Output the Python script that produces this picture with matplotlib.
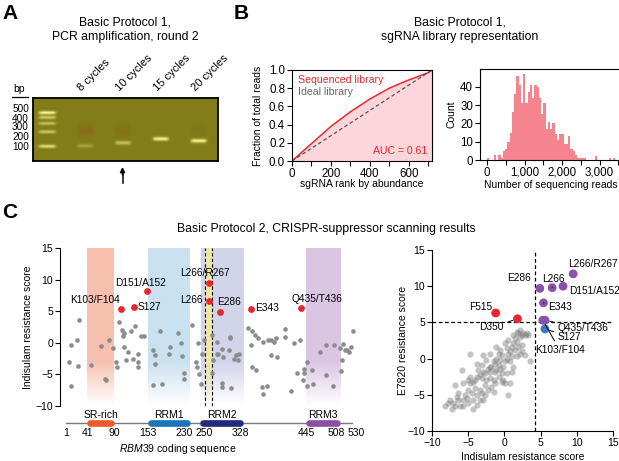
import numpy as np
import matplotlib.pyplot as plt
import matplotlib.colors as mcolors

plt.rcParams['font.family'] = ['Liberation Sans', 'DejaVu Sans']
plt.rcParams['mathtext.fontset'] = 'custom'
plt.rcParams['mathtext.it'] = 'Liberation Sans:italic'
plt.rcParams['mathtext.rm'] = 'Liberation Sans'
plt.rcParams['axes.linewidth'] = 0.8

# ---------------- data ----------------
# A: gel
ladder_bp = [100, 200, 300, 400, 500]
ladder_intensity = [0.8, 0.6, 0.55, 0.65, 1.0]
lane_names = ['8 cycles', '10 cycles', '15 cycles', '20 cycles']
product_bp = [102, 118, 143, 130]
product_intensity = [0.3, 0.55, 0.95, 0.95]
smear_intensity = [0.35, 0.3, 0.05, 0.12]

# B: library representation
n_guides = 720
rank = [0, 100, 200, 300, 400, 500, 600, 700, 720]
frac_reads = [0, 0.19, 0.38, 0.54, 0.68, 0.80, 0.89, 0.97, 1.0]
auc = 0.61
bin_width = 60
hist_counts = [1, 0, 0, 3, 0, 3, 1, 5, 6, 10, 15, 26, 36, 46, 41, 31, 47, 31, 37, 41,
               34, 41, 40, 34, 25, 31, 17, 21, 17, 20, 14, 11, 14, 14, 9, 9, 13, 6, 5, 3,
               1, 1, 1, 1, 0, 0, 0, 0, 2, 0, 0, 0, 0, 0, 1, 0, 1, 0]

# C left: scan along RBM39
gray_seq = [7, 11, 11, 21, 23, 25, 48, 66, 73, 76, 80, 88, 93, 96, 99, 104, 107, 108, 109, 113,
            116, 122, 125, 128, 134, 135, 135, 140, 145, 162, 165, 163, 165, 175, 179, 191, 194,
            208, 214, 216, 219, 220, 235, 242, 243, 245, 248, 250, 253, 256, 271, 272, 273, 280,
            280, 283, 290, 291, 289, 289, 304, 306, 305, 303, 311, 316, 320, 322, 337, 343, 345,
            346, 350, 352, 357, 363, 365, 373, 366, 374, 381, 386, 389, 380, 391, 406, 406, 417,
            422, 428, 434, 441, 441, 446, 439, 447, 456, 457, 471, 481, 496, 508, 517, 481, 494,
            510, 513, 520, 524, 529, 531, 511]
gray_score = [-3.0, -0.4, -6.9, 0.5, -3.7, 3.6, -3.5, -0.5, -5.7, -5.9, 0.4, -0.8, -3.0, -3.8, 3.3,
              2.1, 1.0, -0.6, 1.5, -2.8, -1.4, 1.8, -2.6, 2.6, -1.8, -3.0, -3.8, 1.0, 1.1, -1.2,
              -1.9, -6.7, -3.3, 1.8, -6.5, -1.7, -0.6, 1.5, -0.1, -2.1, -4.8, -5.8, 2.8, -3.1,
              -3.8, 0.0, -4.9, -6.5, -1.8, 0.4, 1.3, -4.7, -2.7, 0.2, -1.8, -1.8, -1.0, -2.2, -6.3,
              -7.0, 0.9, -7.2, 0.7, -1.1, -2.5, -1.9, -2.8, -1.7, 2.3, -0.4, -3.9, 1.8, 1.3, -4.3,
              0.7, -7.0, -8.1, -6.8, 0.2, 0.4, 0.4, 0.2, 0.8, -2.0, -2.3, 2.2, 0.9, -7.6, -0.1,
              -4.7, 0.4, -4.2, -4.7, -3.1, -5.9, -6.9, -4.3, -6.5, -1.4, -0.3, -0.3, -0.9, -1.1,
              -5.1, -6.8, -4.4, -0.2, -1.2, -1.4, -0.7, 1.8, -2.7]
hit_names = ['K103/F104', 'S127', 'D151/A152', 'L266/R267', 'L266', 'E286', 'E343', 'Q435/T436']
hit_seq = [103.5, 127, 151.5, 266.5, 266, 286, 343, 435.5]
hit_score = [5.3, 5.6, 8.2, 9.5, 6.6, 4.9, 5.4, 5.5]
domain_names = ['SR-rich', 'RRM1', 'RRM2', 'RRM3']
domain_start = [41, 153, 250, 445]
domain_end = [90, 230, 328, 508]
seq_ticks = [1, 41, 90, 153, 230, 250, 328, 445, 508, 530]

# C right: indisulam vs E7820
gray_indisulam = [-4.8, -5.9, -6.8, -7.5, -8.2, -7.3, -7.1, -6.6, -6.4, -5.7, -5.5, -5.0, -4.8, -4.4,
                  -4.1, -3.8, -3.4, -3.1, -2.9, -2.7, -2.2, -2.0, -1.8, -1.5, -1.3, -1.1, -0.8, -0.6,
                  -0.4, -0.2, 0.1, 0.3, 0.5, 0.8, 1.0, 1.2, 1.5, 1.7, 1.9, 2.2, 2.4, 2.6, 2.8, 3.1,
                  3.3, 3.5, 2.4, 1.9, 1.5, 1.0, 0.5, 0.3, 0.1, -0.4, -0.8, -1.3, -1.8, -2.2, -2.7,
                  -3.1, -3.8, -4.3, -5.0, -5.7, -6.1, -4.3, -3.4, -2.5, -2.0, -1.5, -1.1, -0.6, -0.2,
                  0.5, 1.2, 1.7, 2.2, 0.8, 1.0, -0.6, -1.1, -2.0, -2.5, -3.1, -3.6, -4.1, -4.5, -5.2,
                  -2.9, -4.8, 2.2, 1.7, 2.4, 0.3, -0.4, -1.5, -2.7, -3.4, -3.8, -6.8, -7.8, -6.4, 1.2,
                  2.8, -0.8, -1.3, 0.1, -2.0, -2.9, -3.8, -5.7, -5.0, 0.8]
gray_e7820 = [0.7, -1.6, -3.7, -5.7, -6.6, -6.9, -6.2, -5.3, -5.7, -5.7, -5.0, -4.3, -3.4, -3.2, -3.0,
              -2.5, -2.3, -2.7, -1.8, -2.0, -1.4, -1.8, -1.1, -0.4, -0.7, 0.0, 0.7, 1.2, 0.5, -1.1,
              -0.4, 0.0, 0.7, 1.0, 1.6, 2.1, 2.8, 2.3, 3.5, 3.0, 3.3, 3.5, 3.3, 3.5, 3.3, -0.4, 1.9,
              1.6, 1.2, 0.3, 2.6, 1.4, 2.1, -2.0, -2.5, -3.4, -3.9, -4.3, -3.7, -4.8, -5.0, -5.7,
              -6.2, -6.6, -6.6, -6.9, -4.3, -3.0, -2.7, -3.0, -1.6, -1.4, -3.0, -5.0, -1.1, 0.3,
              0.7, -0.4, -1.8, -0.2, 1.6, 0.7, -0.2, -0.9, -1.6, -4.1, -4.8, -5.5, -5.7, -2.5, 4.0,
              3.7, 1.0, -2.0, -3.2, -4.6, -5.0, -5.7, -6.4, -6.6, -6.2, -4.8, 3.3, 0.5, -0.9, -1.8,
              -3.4, -1.1, 0.5, -0.7, -3.4, -3.0, -3.4]
hit2_names = ['L266/R267', 'L266', 'D151/A152', 'E286', 'E343', 'Q435/T436', 'K103/F104',
              'S127', 'F515', 'D350']
hit2_indisulam = [9.5, 6.6, 8.1, 4.9, 5.4, 5.6, 5.3, 5.6, -1.2, 1.8]
hit2_e7820 = [11.7, 9.8, 10.0, 9.7, 7.7, 5.3, 5.3, 4.1, 6.3, 5.5]
hit2_group = ['both', 'both', 'both', 'both', 'both', 'both', 'both', 'indisulam', 'e7820', 'e7820']
indisulam_cut = 4.2
e7820_cut = 5.0

# ---------------- layout helpers ----------------
W, H = 619, 461
fig = plt.figure(figsize=(W / 100, H / 100), dpi=100)


def px_axes(l, t, r, b):
    return fig.add_axes([l / W, 1 - b / H, (r - l) / W, (b - t) / H])


def ftext(x, y, s, **kw):
    return fig.text(x / W, 1 - y / H, s, **kw)


RED = '#e8262d'
PURPLE = '#8c50aa'
BLUE = '#3b78c2'
tick_kw = dict(direction='out', length=3.5, width=0.8, color='k')

# panel letters and titles
for x, y, s in [(2, 4, 'A'), (234, 4, 'B'), (2, 203, 'C')]:
    ftext(x, y, s, fontsize=15, fontweight='bold', va='top', ha='left')
ftext(125, 29.5, 'Basic Protocol 1,\nPCR amplification, round 2', fontsize=8.8,
      ha='center', va='center', linespacing=1.25)
ftext(460, 29.5, 'Basic Protocol 1,\nsgRNA library representation', fontsize=8.8,
      ha='center', va='center', linespacing=1.25)
ftext(326, 229, 'Basic Protocol 2, CRISPR-suppressor scanning results', fontsize=8.8,
      ha='center', va='center')

# ---------------- A: gel ----------------
axA = px_axes(33, 98, 218, 161)
ylo, yhi = np.log10(50), 3.0
xlo, xhi = -0.37, 4.5
xs = np.linspace(xlo, xhi, 300)
ys = np.linspace(ylo, yhi, 130)
X, Y = np.meshgrid(xs, ys)
band = np.zeros_like(X)
smear = np.zeros_like(X)


def lane_profile(x0, w=0.21):
    return np.exp(-((X - x0) / w) ** 6)


for bp, a in zip(ladder_bp, ladder_intensity):
    band += a * lane_profile(0, 0.23) * np.exp(-((Y - np.log10(bp)) / 0.034) ** 2)
for i, (bp, a, s) in enumerate(zip(product_bp, product_intensity, smear_intensity)):
    band += a * lane_profile(i + 1) * np.exp(-((Y - np.log10(bp)) / 0.04) ** 2)
    smear += s * lane_profile(i + 1) * np.exp(-((Y - np.log10(210)) / 0.12) ** 2)
band = np.clip(band, 0, 1)[..., None]
smear = np.clip(smear, 0, 1)[..., None]
bg = np.array([0.51, 0.49, 0.10])
bright = np.array([1.0, 0.98, 0.55])
redish = np.array([0.56, 0.33, 0.09])
img = np.ones(X.shape + (3,)) * bg
img = img * (1 - smear) + redish * smear
img = img * (1 - band) + bright * band
axA.imshow(np.clip(img, 0, 1), extent=(xlo, xhi, ylo, yhi), origin='lower',
           aspect='auto', interpolation='bilinear')
axA.set_xlim(xlo, xhi)
axA.set_ylim(ylo, yhi)
axA.set_xticks([])
axA.set_yticks([])
for sp in axA.spines.values():
    sp.set_linewidth(1.3)
for i, name in enumerate(lane_names):
    axA.text(i + 1 - 0.08, yhi + 0.13, name, rotation=45, rotation_mode='anchor',
             ha='left', va='baseline', fontsize=8, clip_on=False)
# ladder size labels, evenly stacked beside the ladder lane
for bp, ypx in zip(ladder_bp, [147, 136.5, 127.5, 118.5, 109.5]):
    ftext(29, ypx, str(bp), fontsize=7.2, ha='right', va='center')
ftext(19.5, 89, 'bp', fontsize=7.5, ha='center', va='center')
fig.add_artist(plt.Line2D([12 / W, 28 / W], [1 - 96.5 / H, 1 - 96.5 / H], color='k', lw=0.9))
fig.add_artist(plt.Line2D([122.5 / W, 122.5 / W], [1 - 183 / H, 1 - 171 / H], color='k', lw=1.1))
axA.annotate('', xy=(122.5, H - 167), xytext=(122.5, H - 175), xycoords='figure pixels',
             textcoords='figure pixels',
             arrowprops=dict(arrowstyle='-|>', color='k', lw=1.1, mutation_scale=7,
                             shrinkA=0, shrinkB=0))

# ---------------- B: Lorenz curve ----------------
axB = px_axes(292, 70, 432, 161)
axB.fill_between(rank, frac_reads, 0, color='#fdd6db', lw=0)
axB.plot(rank, frac_reads, color=RED, lw=1.1)
axB.plot([0, n_guides], [0, 1], ls=(0, (3, 2)), color='#555555', lw=0.9)
axB.set_xlim(0, n_guides)
axB.set_ylim(0, 1)
axB.set_xticks(range(0, 701, 100))
axB.set_xticklabels(['0', '', '200', '', '400', '', '600', ''])
axB.set_yticks(np.arange(0, 1.01, 0.2))
axB.set_yticklabels(['0.0', '0.2', '0.4', '0.6', '0.8', '1.0'])
axB.tick_params(labelsize=8.3, pad=1.5, **tick_kw)
axB.text(31, 0.89, 'Sequenced library', color=RED, fontsize=7.6, va='center')
axB.text(31, 0.76, 'Ideal library', color='#666666', fontsize=7.6, va='center')
axB.text(694, 0.11, f'AUC = {auc:.2f}', color=RED, fontsize=7.6, va='center', ha='right')
axB.set_ylabel('Fraction of total reads', fontsize=7.5)
axB.yaxis.set_label_coords(-0.205, 0.5)
axB.set_xlabel('sgRNA rank by abundance', fontsize=7.5)
axB.xaxis.set_label_coords(0.5, -0.2)

# ---------------- B: histogram ----------------
axH = px_axes(480, 69, 621, 160)
edges = np.arange(len(hist_counts)) * bin_width
axH.bar(edges, hist_counts, width=bin_width, align='edge', color='#f5848e', lw=0)
axH.set_xlim(-187, 3570)
axH.set_ylim(0, 49.7)
axH.set_xticks(range(0, 3501, 500))
axH.set_xticklabels(['0', '', '1,000', '', '2,000', '', '3,000', ''])
axH.set_yticks([0, 10, 20, 30, 40])
axH.tick_params(labelsize=8.3, pad=1.5, **tick_kw)
axH.set_ylabel('Count', fontsize=7.5)
axH.yaxis.set_label_coords(-0.17, 0.5)
axH.set_xlabel('Number of sequencing reads', fontsize=7.5)
axH.xaxis.set_label_coords(0.5, -0.22)

# ---------------- C left: scan along sequence ----------------
axC = px_axes(60, 248, 365, 406)
shade_colors = ['#f7c0ae', '#c9e1f0', '#d2d4ea', '#dac6e3']


def shade(ax, x0, x1, color, zorder=0):
    n = 120
    yy = np.linspace(-10, 15, n)
    a = np.clip((yy + 10) / 7.0, 0, 1)
    im = np.zeros((n, 1, 4))
    im[:, 0, :3] = mcolors.to_rgb(color)
    im[:, 0, 3] = a
    ax.imshow(im, extent=(x0, x1, -10, 15), origin='lower', aspect='auto',
              interpolation='bilinear', zorder=zorder)


for s, e, c in zip(domain_start, domain_end, shade_colors):
    shade(axC, s, e, c)
shade(axC, 259, 271, '#efe8a2', zorder=0.5)
for xv in (259, 271):
    axC.plot([xv, xv], [-10, 15], ls=(0, (3, 2)), color='k', lw=0.8, zorder=1)
axC.scatter(gray_seq, gray_score, s=11, color='#8c8c8c', lw=0, zorder=2)
axC.scatter(hit_seq, hit_score, s=24, color=RED, lw=0, zorder=3)

left_label_pos = {
    'K103/F104': (101, 6.8, 'right'),
    'S127': (133, 5.7, 'left'),
    'D151/A152': (139, 9.5, 'center'),
    'L266/R267': (259, 11.0, 'center'),
    'L266': (253, 6.8, 'right'),
    'E286': (281, 6.5, 'left'),
    'E343': (351, 5.45, 'left'),
    'Q435/T436': (465, 7.0, 'center'),
}
for name in hit_names:
    tx, ty, ha = left_label_pos[name]
    axC.text(tx, ty, name, fontsize=7.3, ha=ha, va='center', zorder=4)

axC.set_xlim(-9.7, 554)
axC.set_ylim(-10, 15)
axC.set_yticks([-10, -5, 0, 5, 10, 15])
axC.set_xticks([])
axC.tick_params(labelsize=7.5, pad=1.5, **tick_kw)
for sp in ['top', 'right', 'bottom']:
    axC.spines[sp].set_visible(False)
axC.set_ylabel('Indisulam resistance score', fontsize=7.5)
axC.yaxis.set_label_coords(-0.088, 0.5)

# protein schematic below the axis
bar_colors = ['#f05a28', '#1b75bb', '#232c7c', '#8b4fa6']
axC.plot([1, 530], [-12.64, -12.64], color='#7a7a7a', lw=1.0, clip_on=False)
for s, e, c, name in zip(domain_start, domain_end, bar_colors, domain_names):
    axC.plot([s + 5, e - 5], [-12.64, -12.64], color=c, lw=4.8, solid_capstyle='round',
             clip_on=False)
    axC.text((s + e) / 2, -11.35, name, fontsize=7.5, ha='center', va='center', clip_on=False)
# small sideways nudges keep neighbouring position labels apart
label_nudge = {230: -10, 250: 6, 328: -4, 508: -8, 530: 8}
for v in seq_ticks:
    axC.text(v + label_nudge.get(v, 0), -14.3, str(v), fontsize=7.5, ha='center',
             va='center', clip_on=False)
axC.text(208, -16.8, r'$\mathit{RBM39}$ coding sequence', fontsize=7.5, ha='center',
         va='center', clip_on=False)

# ---------------- C right: indisulam vs E7820 ----------------
axR = px_axes(432, 250, 613, 431)
axR.axvline(indisulam_cut, ls=(0, (3, 2)), color='k', lw=0.9, zorder=1)
axR.axhline(e7820_cut, ls=(0, (3, 2)), color='k', lw=0.9, zorder=1)
axR.scatter(gray_indisulam, gray_e7820, s=20, color='#7a7a7a', alpha=0.45, lw=0, zorder=2)
group_color = {'both': PURPLE, 'indisulam': BLUE, 'e7820': RED}
axR.scatter(hit2_indisulam, hit2_e7820, s=40, lw=0, zorder=3,
            c=[group_color[g] for g in hit2_group])

right_label_pos = {
    'L266/R267': (8.8, 13.0, 'left', False),
    'L266': (6.75, 10.95, 'center', True),
    'D151/A152': (8.9, 9.4, 'left', False),
    'E286': (3.7, 11.2, 'right', True),
    'E343': (6.05, 7.1, 'left', True),
    'Q435/T436': (7.3, 4.2, 'left', True),
    'S127': (7.4, 3.0, 'left', True),
    'K103/F104': (4.2, 1.2, 'left', True),
    'F515': (-1.65, 7.1, 'right', False),
    'D350': (-0.1, 4.3, 'right', True),
}
for name, xv, yv in zip(hit2_names, hit2_indisulam, hit2_e7820):
    tx, ty, ha, leader = right_label_pos[name]
    if leader:
        axR.annotate(name, xy=(xv, yv), xytext=(tx, ty), fontsize=7.3, ha=ha, va='center',
                     zorder=4,
                     arrowprops=dict(arrowstyle='-', color='k', lw=0.7, shrinkA=1, shrinkB=3.5))
    else:
        axR.text(tx, ty, name, fontsize=7.3, ha=ha, va='center', zorder=4)

axR.set_xlim(-10, 15)
axR.set_ylim(-10, 15)
axR.set_xticks([-10, -5, 0, 5, 10, 15])
axR.set_yticks([-10, -5, 0, 5, 10, 15])
axR.tick_params(labelsize=7.5, pad=1.5, **tick_kw)
for sp in ['top', 'right']:
    axR.spines[sp].set_visible(False)
axR.set_xlabel('Indisulam resistance score', fontsize=7.5)
axR.xaxis.set_label_coords(0.5, -0.115)
axR.set_ylabel('E7820 resistance score', fontsize=7.5)
axR.yaxis.set_label_coords(-0.133, 0.5)

fig.savefig('out.png', dpi=100)
